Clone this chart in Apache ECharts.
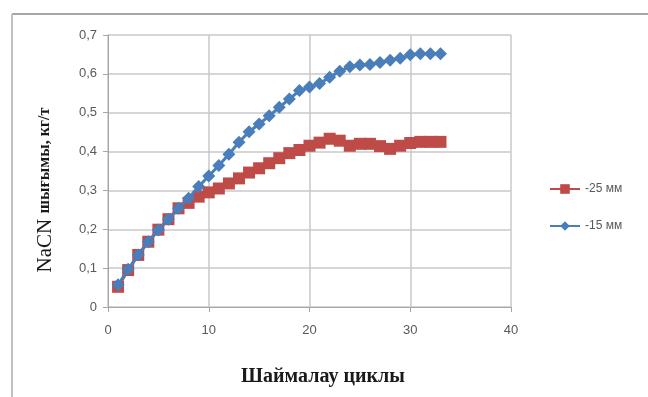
<!DOCTYPE html>
<html>
<head>
<meta charset="utf-8">
<script src="https://cdn.jsdelivr.net/npm/echarts@6/dist/echarts.min.js"></script>
<style>html,body{margin:0;padding:0;background:#fff;}#c{width:648px;height:397px;}</style>
</head>
<body>
<div id="c"></div>
<script>
const cycles = [1,2,3,4,5,6,7,8,9,10,11,12,13,14,15,16,17,18,19,20,21,22,23,24,25,26,27,28,29,30,31,32,33];
const mm25 = [0.052,0.095,0.134,0.168,0.199,0.226,0.254,0.268,0.284,0.295,0.305,0.318,0.331,0.346,0.357,0.370,0.383,0.396,0.404,0.415,0.423,0.433,0.428,0.415,0.420,0.420,0.414,0.407,0.415,0.422,0.425,0.425,0.425];
const mm15 = [0.057,0.097,0.134,0.168,0.198,0.226,0.254,0.280,0.310,0.337,0.364,0.393,0.424,0.451,0.471,0.492,0.514,0.535,0.557,0.566,0.575,0.591,0.607,0.618,0.623,0.624,0.629,0.635,0.640,0.649,0.652,0.652,0.652];
const seriesNames = ['-25 мм','-15 мм'];
const yTicks = [0,0.1,0.2,0.3,0.4,0.5,0.6,0.7];

const chart = echarts.init(document.getElementById('c'), null, {renderer:'canvas'});
const pair = (xs, ys) => xs.map((x,i)=>[x, ys[i]]);
const axisLabelStyle = {color:'#595959', fontFamily:'Liberation Sans, Arial, sans-serif', fontSize:13};
chart.setOption({
  animation:false,
  backgroundColor:'#fff',
  grid:{left:108, top:35, width:403, height:272, containLabel:false},
  xAxis:{type:'value', min:0, max:40, interval:10,
    axisLine:{show:true, lineStyle:{color:'#a6a6a6', width:1}},
    axisTick:{show:true, length:5, lineStyle:{color:'#a6a6a6'}},
    splitLine:{show:true, lineStyle:{color:'#c8c8c8', width:1.5}},
    axisLabel:Object.assign({margin:17}, axisLabelStyle)},
  yAxis:{type:'value', min:0, max:0.7, interval:0.1,
    axisLine:{show:true, lineStyle:{color:'#a6a6a6', width:1}},
    axisTick:{show:true, length:5, lineStyle:{color:'#a6a6a6'}},
    splitLine:{show:true, lineStyle:{color:'#c8c8c8', width:1.5}},
    axisLabel:Object.assign({margin:11, formatter:v=>{const r=Math.round(v*10)/10; return r===0?'0':String(r).replace('.',',');}}, axisLabelStyle)},
  legend:{orient:'vertical', left:544, top:178, itemGap:25, itemWidth:30, itemHeight:12, itemStyle:{},
    textStyle:{color:'#595959', fontFamily:'Liberation Sans, Arial, sans-serif', fontSize:12},
    data:seriesNames.map(n=>({name:n}))},
  series:[
    {name:seriesNames[0], type:'line', data:pair(cycles, mm25), symbol:'rect', symbolSize:12,
      lineStyle:{color:'#BE4B48', width:3}, itemStyle:{color:'#BE4B48'}, z:2},
    {name:seriesNames[1], type:'line', data:pair(cycles, mm15), symbol:'diamond', symbolSize:13,
      lineStyle:{color:'#4A7EBB', width:3}, itemStyle:{color:'#4A7EBB'}, z:3}
  ],
  graphic:[
    {type:'line', shape:{x1:12, y1:14, x2:648, y2:14}, style:{stroke:'#a6a6a6', lineWidth:2}},
    {type:'line', shape:{x1:12, y1:14, x2:12, y2:397}, style:{stroke:'#c0c0c0', lineWidth:2}},
    {type:'text', x:323, y:377, style:{text:'Шаймалау циклы', font:'bold 20px "Liberation Serif", "Times New Roman", serif', fill:'#1a1a1a', align:'center', verticalAlign:'middle'}},
    {type:'text', x:45, y:190, rotation:Math.PI/2,
      style:{text:'{a|NaCN }{b|шығымы, кг/т}', align:'center', verticalAlign:'middle',
        rich:{a:{font:'21px "Liberation Serif", "Times New Roman", serif', fill:'#1a1a1a'},
              b:{font:'bold 16px "Liberation Serif", "Times New Roman", serif', fill:'#1a1a1a'}}}}
  ]
});
</script>
</body>
</html>
